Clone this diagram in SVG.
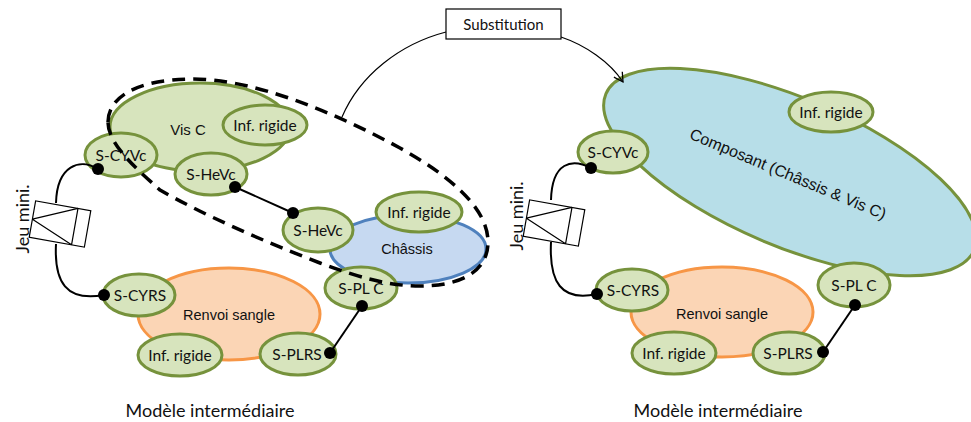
<svg xmlns="http://www.w3.org/2000/svg" width="971" height="422" viewBox="0 0 971 422">
<defs>
<style>
.g{fill:#d7e4bd;stroke:#76923c;stroke-width:3}
.b{fill:#c6d9f1;stroke:#4f81bd;stroke-width:3}
.o{fill:#fbd5b5;stroke:#f79646;stroke-width:3}
.c{fill:#b7dee8;stroke:#76923c;stroke-width:3}
.t{font-family:Lato,"Liberation Sans",sans-serif;font-size:15.5px;fill:#111;text-anchor:middle;dominant-baseline:central}
.h{font-family:"Liberation Sans",Arial,sans-serif;font-size:14.5px;fill:#111;text-anchor:middle;dominant-baseline:central}
.ln{fill:none;stroke:#000;stroke-width:2}
.thin{fill:none;stroke:#000;stroke-width:1.2}
.dot{fill:#000}
.box{fill:#fff;stroke:#000;stroke-width:1.2}
.dash{fill:none;stroke:#000;stroke-width:3.5;stroke-dasharray:13 8}
</style>
<marker id="arr" viewBox="0 0 12 12" refX="10" refY="6" markerWidth="12" markerHeight="12" markerUnits="userSpaceOnUse" orient="auto">
<path d="M1,1 L10,6 L1,11" fill="none" stroke="#000" stroke-width="1.3"/>
</marker>
</defs>
<rect width="971" height="422" fill="#fff"/>

<!-- LEFT MODEL -->
<g id="visc">
<ellipse class="g" cx="200" cy="127" rx="90" ry="44"/>
<text class="h" x="188" y="129" style="font-size:15px">Vis C</text>
</g>
<g id="visc-inf">
<ellipse class="g" cx="265" cy="125" rx="42" ry="20"/>
<text class="t" x="265" y="125">Inf. rigide</text>
</g>
<g id="visc-scyvc">
<ellipse class="g" cx="121" cy="155" rx="36" ry="22"/>
<text class="t" x="121" y="155">S-CYVc</text>
</g>
<g id="visc-shevc">
<ellipse class="g" cx="211" cy="174" rx="36" ry="21"/>
<text class="t" x="211" y="174">S-HeVc</text>
</g>

<g id="chassis">
<ellipse class="b" cx="408" cy="249" rx="78" ry="34"/>
<text class="h" x="407" y="249">Châssis</text>
</g>
<g id="chassis-inf">
<ellipse class="g" cx="419" cy="212" rx="43" ry="20"/>
<text class="t" x="419" y="212">Inf. rigide</text>
</g>
<g id="chassis-shevc">
<ellipse class="g" cx="318" cy="230" rx="35" ry="22"/>
<text class="t" x="318" y="230">S-HeVc</text>
</g>
<g id="chassis-splc">
<ellipse class="g" cx="361" cy="288" rx="36" ry="21"/>
<text class="t" x="361" y="288">S-PL C</text>
</g>

<g id="renvoi">
<ellipse class="o" cx="229" cy="314" rx="91" ry="46"/>
<text class="h" x="229" y="315">Renvoi sangle</text>
</g>
<g id="renvoi-scyrs">
<ellipse class="g" cx="139" cy="295" rx="36" ry="21"/>
<text class="t" x="140" y="295">S-CYRS</text>
</g>
<g id="renvoi-inf">
<ellipse class="g" cx="180" cy="355" rx="42" ry="21"/>
<text class="t" x="180" y="355">Inf. rigide</text>
</g>
<g id="renvoi-splrs">
<ellipse class="g" cx="298" cy="354" rx="38" ry="21"/>
<text class="t" x="297" y="354">S-PLRS</text>
</g>

<g id="jeu-left">
<g transform="rotate(10,60,224)">
<rect class="box" x="32" y="205.5" width="56" height="37"/>
<path class="thin" d="M75,205.5 V242.5 M32,224 L75,205.5 M32,224 L75,242.5"/>
</g>
<text class="t" transform="translate(22,219) rotate(-90)" style="font-size:18px">Jeu mini.</text>
</g>

<!-- RIGHT MODEL -->
<g id="composant">
<ellipse class="c" cx="790" cy="172" rx="200" ry="74" transform="rotate(23,790,172)"/>
<text class="h" transform="translate(788,174) rotate(22.7)" style="font-size:16px">Composant (Châssis &amp; Vis C)</text>
</g>
<g id="composant-inf">
<ellipse class="g" cx="831" cy="112" rx="42" ry="20"/>
<text class="t" x="831" y="112">Inf. rigide</text>
</g>
<g id="composant-scyvc">
<ellipse class="g" cx="613" cy="152" rx="35" ry="21"/>
<text class="t" x="613" y="152">S-CYVc</text>
</g>
<g id="composant-splc">
<ellipse class="g" cx="854" cy="285" rx="36" ry="22"/>
<text class="t" x="854" y="285">S-PL C</text>
</g>

<g id="renvoi2">
<ellipse class="o" cx="722" cy="312" rx="91" ry="45"/>
<text class="h" x="722" y="314">Renvoi sangle</text>
</g>
<g id="renvoi2-scyrs">
<ellipse class="g" cx="632" cy="290" rx="36" ry="21"/>
<text class="t" x="633" y="290">S-CYRS</text>
</g>
<g id="renvoi2-inf">
<ellipse class="g" cx="674" cy="353" rx="42" ry="21"/>
<text class="t" x="674" y="353">Inf. rigide</text>
</g>
<g id="renvoi2-splrs">
<ellipse class="g" cx="789" cy="353" rx="36" ry="21"/>
<text class="t" x="788" y="353">S-PLRS</text>
</g>

<g id="jeu-right">
<g transform="rotate(10,554,223)">
<rect class="box" x="526" y="204.5" width="56" height="37"/>
<path class="thin" d="M569,204.5 V241.5 M526,223 L569,204.5 M526,223 L569,241.5"/>
</g>
<text class="t" transform="translate(516,216) rotate(-90)" style="font-size:18px">Jeu mini.</text>
</g>

<!-- CONNECTORS -->
<g id="connectors">
<path class="ln" d="M98,169 C80,158 57,165 56,203"/>
<path class="ln" d="M56,244 C54,282 66,302 104,295"/>
<line class="ln" x1="235" y1="187" x2="293" y2="213"/>
<line class="ln" x1="362" y1="306" x2="330" y2="353"/>
<circle class="dot" cx="98" cy="169" r="6"/>
<circle class="dot" cx="104" cy="295" r="6"/>
<circle class="dot" cx="235" cy="187" r="6"/>
<circle class="dot" cx="293" cy="213" r="6"/>
<circle class="dot" cx="362" cy="306" r="6"/>
<circle class="dot" cx="330" cy="353" r="6"/>

<path class="ln" d="M591,168 C572,158 552,162 551,200"/>
<path class="ln" d="M551,242 C549,282 561,302 597,294"/>
<line class="ln" x1="855" y1="305" x2="823" y2="352"/>
<circle class="dot" cx="591" cy="168" r="6"/>
<circle class="dot" cx="597" cy="294" r="6"/>
<circle class="dot" cx="855" cy="305" r="6"/>
<circle class="dot" cx="823" cy="352" r="6"/>

<path class="dash" d="M108,122 C108,98 135,80 190,79 C250,78 330,110 400,148 C450,176 488,208 488,242 C488,272 460,286 420,286 C390,286 360,278 320,263 C260,240 200,213 160,190 C138,170 108,145 108,122 Z"/>

<path class="thin" d="M446,32 C400,44 360,75 342,117"/>
<path class="thin" d="M561,37 C585,45 610,62 623,82" marker-end="url(#arr)"/>
</g>

<g id="substitution">
<rect class="box" x="446" y="9" width="115" height="30"/>
<text class="t" x="503.5" y="24" style="font-size:15px">Substitution</text>
</g>

<text class="t" x="210" y="410" style="font-size:18px">Modèle intermédiaire</text>
<text class="t" x="718" y="410" style="font-size:18px">Modèle intermédiaire</text>
</svg>
